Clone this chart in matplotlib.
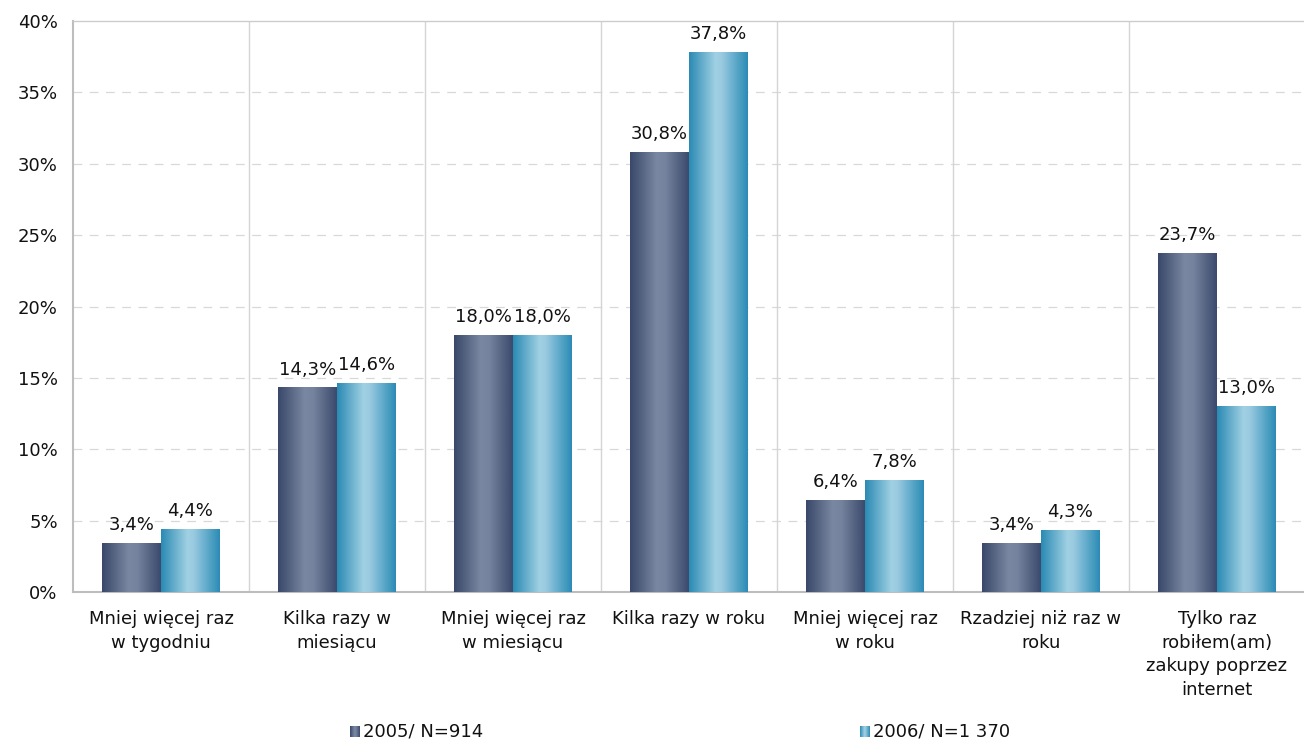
import matplotlib
matplotlib.use("Agg")
import matplotlib.pyplot as plt
import numpy as np
from matplotlib.colors import LinearSegmentedColormap

categories = ["Mniej więcej raz\nw tygodniu", "Kilka razy w\nmiesiącu", "Mniej więcej raz\nw miesiącu",
              "Kilka razy w roku", "Mniej więcej raz\nw roku", "Rzadziej niż raz w\nroku",
              "Tylko raz\nrobiłem(am)\nzakupy poprzez\ninternet"]
series_names = ["2005/ N=914", "2006/ N=1 370"]
values_2005 = [3.4, 14.3, 18.0, 30.8, 6.4, 3.4, 23.7]
values_2006 = [4.4, 14.6, 18.0, 37.8, 7.8, 4.3, 13.0]
yticks = [0, 5, 10, 15, 20, 25, 30, 35, 40]

plt.rcParams['font.family'] = ['DejaVu Sans']
FS = 13

cmap05 = LinearSegmentedColormap.from_list("c05", [(0, "#394869"), (0.45, "#7a87a2"), (0.6, "#76839e"), (1, "#3b4a6c")])
cmap06 = LinearSegmentedColormap.from_list("c06", [(0, "#2a8ab4"), (0.45, "#a0d0e3"), (0.55, "#9acbe0"), (1, "#2b8bb5")])

fig = plt.figure(figsize=(13.04, 7.43), dpi=100)
ax = fig.add_axes([73/1304, 1-592/743, 1232/1304, (592-21)/743])

x = np.arange(len(categories))
w = 1/3
grad = np.linspace(0, 1, 256).reshape(1, -1)

def gbar(xs, vals, cmap):
    bars = ax.bar(xs, vals, width=w, color="none", edgecolor="none", zorder=3)
    for b in bars:
        x0, y0 = b.get_x(), b.get_y()
        ax.imshow(grad, cmap=cmap, aspect="auto", extent=(x0, x0 + b.get_width(), y0, y0 + b.get_height()),
                  zorder=3, interpolation="bicubic")
    return bars

b1 = gbar(x - w/2, values_2005, cmap05)
b2 = gbar(x + w/2, values_2006, cmap06)

for xs, vals in ((x - w/2, values_2005), (x + w/2, values_2006)):
    for xi, v in zip(xs, vals):
        ax.text(xi, v + 0.65, f"{v:.1f}%".replace(".", ","), ha="center", va="bottom", fontsize=FS, color="#111111", zorder=5)

ax.set_xlim(-0.5, len(categories) - 0.5)
ax.set_ylim(0, 40)
ax.set_yticks(yticks)
ax.set_yticklabels([f"{t}%" for t in yticks], fontsize=FS)
ax.set_xticks(x)
ax.set_xticklabels(categories, fontsize=FS, linespacing=1.4)
ax.tick_params(axis="both", length=0, colors="#111111")
ax.tick_params(axis="y", pad=11)
ax.tick_params(axis="x", pad=13)

for t in yticks[1:-1]:
    ax.axhline(t, color="#d8d8d8", lw=0.9, ls=(0, (7, 6)), zorder=1)
for xi in np.arange(0.5, len(categories) - 0.5, 1):
    ax.axvline(xi, color="#d4d4d4", lw=1.0, zorder=1)

for s in ["left", "bottom"]:
    ax.spines[s].set_color("#bdbdbd")
    ax.spines[s].set_linewidth(1.5)
ax.spines["right"].set_visible(False)
ax.spines["top"].set_linewidth(1.0)
ax.spines["top"].set_color("#cccccc")

# legend
legend_x = [350/1304, 860/1304]
for lx, name, cmap in zip(legend_x, series_names, (cmap05, cmap06)):
    lax = fig.add_axes([lx, 1-737/743, 10/1304, 11/743])
    lax.imshow(grad, cmap=cmap, aspect="auto")
    lax.axis("off")
    fig.text(lx + 13/1304, 1-731/743, name, fontsize=FS, va="center", ha="left", color="#111111")

fig.savefig("out.png", dpi=100)
